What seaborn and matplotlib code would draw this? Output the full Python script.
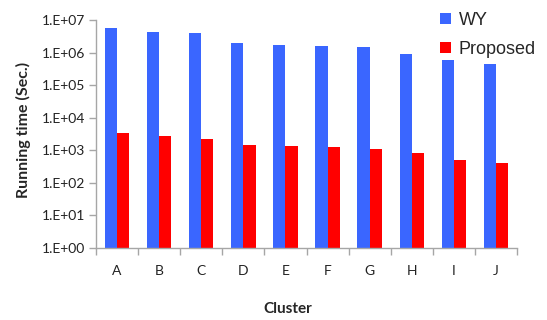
import matplotlib
matplotlib.use("Agg")
import matplotlib.pyplot as plt
import seaborn as sns
import pandas as pd
import numpy as np
from matplotlib.ticker import FixedLocator, NullFormatter

clusters = ["A", "B", "C", "D", "E", "F", "G", "H", "I", "J"]
wy = [5.7e6, 4.4e6, 3.9e6, 2.0e6, 1.7e6, 1.6e6, 1.5e6, 8.9e5, 5.9e5, 4.5e5]
proposed = [3.3e3, 2.7e3, 2.3e3, 1.45e3, 1.37e3, 1.25e3, 1.1e3, 8.5e2, 5.2e2, 4.0e2]
series_names = ["WY", "Proposed"]
ytick_labels = ["1.E+00", "1.E+01", "1.E+02", "1.E+03", "1.E+04", "1.E+05", "1.E+06", "1.E+07"]

df = pd.DataFrame({
    "Cluster": clusters * 2,
    "Time": wy + proposed,
    "Method": [series_names[0]] * len(clusters) + [series_names[1]] * len(clusters),
})

sns.set_theme(style="white")
plt.rcParams["font.family"] = ["Lato", "DejaVu Sans"]

fig = plt.figure(figsize=(5.47, 3.2), dpi=100)
ax = fig.add_axes([96 / 547, 1 - 248 / 320, (517 - 96) / 547, (248 - 20) / 320])

sns.barplot(data=df, x="Cluster", y="Time", hue="Method",
            palette={"WY": "#3A66FF", "Proposed": "#FF0000"},
            width=0.58, ax=ax, legend=True, saturation=1,
            linewidth=0, edgecolor="none")
ax.set_yscale("log")
ax.set_ylim(1, 1e7)
ax.set_xlim(-0.5, len(clusters) - 0.5)
ax.yaxis.set_major_locator(FixedLocator([10.0 ** i for i in range(8)]))
ax.yaxis.set_minor_locator(FixedLocator([]))
ax.set_yticklabels(ytick_labels)

ax.xaxis.set_minor_locator(FixedLocator(np.arange(-0.5, len(clusters), 1.0)))
ax.xaxis.set_minor_formatter(NullFormatter())
ax.tick_params(axis="x", which="major", length=0, pad=12, labelsize=10, colors="#222222")
ax.tick_params(axis="x", which="minor", length=5, width=1, color="#A6A6A6", direction="out", bottom=True)
ax.tick_params(axis="y", which="major", length=5, width=1, color="#A6A6A6", direction="out",
               left=True, labelsize=10, labelcolor="#222222", pad=3)

for s in ["top", "right"]:
    ax.spines[s].set_visible(False)
for s in ["left", "bottom"]:
    ax.spines[s].set_color("#A6A6A6")
    ax.spines[s].set_linewidth(1)

ax.set_xlabel("Cluster", fontsize=11, fontweight="bold")
ax.xaxis.set_label_coords(288 / 547, 1 - 302 / 320, transform=fig.transFigure)
ax.set_ylabel("Running time (Sec.)", fontsize=11.5, fontweight="bold")
ax.yaxis.set_label_coords(31 / 547, 1 - 130 / 320, transform=fig.transFigure)

handles, labels = ax.get_legend_handles_labels()
ax.legend(handles, labels, loc="upper left", bbox_to_anchor=(424 / 547, 1 + 4 / 320),
          bbox_transform=fig.transFigure, frameon=False,
          handlelength=0.58, handleheight=0.58, handletextpad=0.45, labelspacing=0.65,
          prop={"family": ["Liberation Sans"], "size": 13})

fig.savefig("out.png", dpi=100)
